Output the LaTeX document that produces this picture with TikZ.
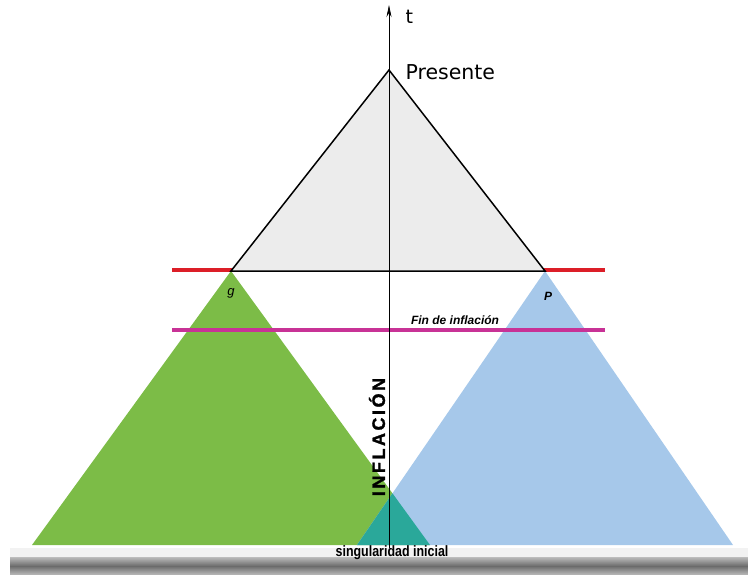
\documentclass[tikz,border=0pt]{standalone}
\usepackage{fontspec}
\usetikzlibrary{arrows.meta}
\setmainfont{Liberation Sans}
\newfontfamily\dejavu{DejaVu Sans}
\newfontfamily\narrowbf[FakeStretch=0.83]{Liberation Sans Bold}
\newfontfamily\spacedbf[LetterSpace=14,FakeBold=1.5]{Liberation Sans Bold}
\newdimen\unitsize
\setlength{\unitsize}{1pt}
\definecolor{conegreen}{RGB}{124,188,71}
\definecolor{coneblue}{RGB}{166,200,234}
\definecolor{coneteal}{RGB}{42,168,154}
\definecolor{endred}{RGB}{220,30,40}
\definecolor{endmagenta}{RGB}{200,50,150}

\begin{document}
\begin{tikzpicture}[x=\unitsize,y=-\unitsize]
\useasboundingbox (0,0) rectangle (755,575);
% suelo
\fill[black!5] (10,548) rectangle (748,557);
\foreach \k in {0,...,17}{
  \pgfmathtruncatemacro{\shd}{58-3.5*abs(\k-9)}
  \fill[black!\shd] (10,557+\k) rectangle (748,558+\k);
}
\coordinate (now) at (389,70);
\coordinate (q) at (231,271);
\coordinate (p) at (545,271);
\coordinate (sing) at (389,548);
\coordinate (ttip) at (389,5);
% conos de luz pasados de q y p
\fill[conegreen] (q) -- (32,545) -- (430,545) -- cycle;
\fill[coneblue] (p) -- (357,545) -- (733,545) -- cycle;
\begin{scope}
  \clip (q) -- (32,545) -- (430,545) -- cycle;
  \fill[coneteal] (p) -- (357,545) -- (733,545) -- cycle;
\end{scope}
\draw[endmagenta,line width=3.2pt] (172,330) -- (605,330);
\draw[endred,line width=3.2pt] (172,270) -- (605,270);
\filldraw[fill=gray!15,draw=black,line width=1.5pt] (now) -- (q) -- (p) -- cycle;
\draw[-{Stealth[length=12pt,width=5pt]},line width=0.7pt] (sing) -- (ttip);
\node[anchor=west,font=\dejavu\fontsize{19}{19}\selectfont] (t) at (402,17) {t};
\node[anchor=west,font=\dejavu\fontsize{20.5}{20.5}\selectfont] (presente) at (402,72) {Presente};
\node[font=\rmfamily\itshape\fontsize{13}{13}\selectfont] (qlabel) at (231,293) {g};
\node[font=\rmfamily\bfseries\itshape\fontsize{12}{12}\selectfont] (plabel) at (548,296) {P};
\node[font=\bfseries\itshape\fontsize{12}{12}\selectfont] (fin) at (455,320) {Fin de inflación};
\node[rotate=90,font=\spacedbf\fontsize{18}{18}\selectfont] (inflacion) at (377,437) {INFLACIÓN};
\node[font=\narrowbf\fontsize{15}{15}\selectfont] (singular) at (392,553) {singularidad inicial};
\end{tikzpicture}
\end{document}
